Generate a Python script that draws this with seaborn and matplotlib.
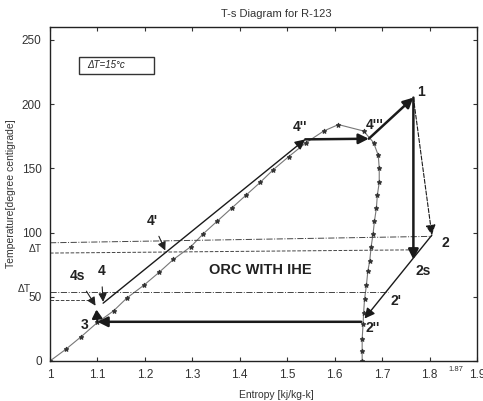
import matplotlib
matplotlib.use("Agg")
import matplotlib.pyplot as plt
import seaborn as sns
import pandas as pd
from matplotlib.patches import Rectangle

# ---------------- data ----------------
# saturation (liquid + vapour) curve of R-123, entropy [kJ/kg-K] vs temperature [C]
sat_s = [1.0, 1.033, 1.066, 1.10, 1.134, 1.162, 1.198, 1.23, 1.26, 1.297, 1.323, 1.353,
         1.383, 1.413, 1.443, 1.471, 1.503, 1.54, 1.577, 1.608, 1.661, 1.682, 1.692,
         1.694, 1.694, 1.690, 1.688, 1.684, 1.681, 1.677, 1.674, 1.670, 1.667, 1.663,
         1.661, 1.660, 1.658, 1.658, 1.658]
sat_T = [0, 9, 19, 30, 39, 49, 59, 69, 79, 89, 99, 109,
         119, 129, 139, 149, 159, 170, 179, 184, 179, 170, 160,
         150, 139, 129, 119, 109, 99, 89, 78, 70, 59, 48,
         37, 29, 17, 8, 0]

# cycle state points
state_names = ["3", "4s", "4", "4''", "4'''", "1", "2s", "2", "2''", "2''h"]
state_s = [1.100, 1.098, 1.112, 1.538, 1.672, 1.766, 1.766, 1.805, 1.663, 1.656]
state_T = [30.5, 40.0, 45.0, 172.5, 173.0, 205.0, 79.0, 98.0, 33.0, 30.5]

# delta-T guide lines: (s_start, T_start, s_end, T_end)
guide_s0 = [1.0, 1.0, 1.0, 1.0]
guide_T0 = [92.0, 84.0, 54.0, 47.5]
guide_s1 = [1.805, 1.766, 1.712, 1.090]
guide_T1 = [97.0, 86.5, 54.0, 47.5]
guide_style = ["dashdot", "dashed", "dashdot", "dashed"]

x_ticks = [1.0, 1.1, 1.2, 1.3, 1.4, 1.5, 1.6, 1.7, 1.8, 1.9]
x_ticklabels = ["1", "1.1", "1.2", "1.3", "1.4", "1.5", "1.6", "1.7", "1.8", "1.9"]
y_ticks = [0, 50, 100, 150, 200, 250]

# ---------------- style ----------------
sns.set_style("ticks")
plt.rcParams["font.family"] = ["Liberation Sans Narrow", "Liberation Sans", "DejaVu Sans"]

fig = plt.figure(figsize=(4.83, 4.01), dpi=100)
ax = fig.add_axes([0.1035, 0.0998, 0.884, 0.833])

# saturation dome
df = pd.DataFrame({"s": sat_s, "T": sat_T})
sns.lineplot(data=df, x="s", y="T", sort=False, estimator=None, ax=ax,
             color="#777777", lw=0.8, marker="*", markersize=3.5,
             markerfacecolor="#333333", markeredgecolor="#333333")

P = {n: (s, t) for n, s, t in zip(state_names, state_s, state_T)}


def arrow(a, b, lw=1.0, ls="-", head=0.45, hw=0.28, color="#1a1a1a"):
    ax.annotate("", xy=b, xytext=a,
                arrowprops=dict(arrowstyle=f"-|>,head_length={head},head_width={hw}",
                                lw=lw, ls=ls, color=color, shrinkA=0, shrinkB=0))


# guide lines
for s0, t0, s1, t1, st in zip(guide_s0, guide_T0, guide_s1, guide_T1, guide_style):
    ax.plot([s0, s1], [t0, t1], ls=st, color="#444444", lw=0.7)

# cycle processes
arrow(P["3"], P["4s"], lw=1.6, head=0.5, hw=0.3)
arrow(P["4"], P["4''"], lw=1.0, head=0.6, hw=0.3)
arrow(P["4''"], P["4'''"], lw=1.8, head=0.6, hw=0.3)
arrow(P["4'''"], P["1"], lw=1.8, head=0.6, hw=0.3)
arrow(P["1"], P["2s"], lw=1.8, head=0.6, hw=0.3)
arrow(P["1"], P["2"], lw=0.8, ls="--", head=0.6, hw=0.3)
arrow(P["2"], P["2''"], lw=1.0, head=0.6, hw=0.3)
arrow(P["2''h"], P["3"], lw=1.8, head=0.6, hw=0.3)

# labels
lab = dict(fontsize=10, fontweight="bold", color="#222222")
ax.text(1.782, 209, "1", ha="center", va="center", **lab)
ax.text(1.684, 184, "4'''", ha="center", va="center", **lab)
ax.text(1.527, 182, "4''", ha="center", va="center", **lab)
ax.text(1.825, 92, "2", va="center", **lab)
ax.text(1.771, 70, "2s", va="center", **lab)
ax.text(1.718, 47, "2'", va="center", **lab)
ax.text(1.664, 26, "2''", va="center", **lab)
ax.text(1.073, 28, "3", va="center", ha="center", **lab)

ptr = dict(arrowstyle="-|>,head_length=0.5,head_width=0.25", lw=0.8,
           color="#222222", shrinkA=4, shrinkB=0)
ax.annotate("4s", xy=(1.096, 43), xytext=(1.057, 66), ha="center", va="center",
            arrowprops=ptr, **lab)
ax.annotate("4", xy=(1.112, 46), xytext=(1.108, 70), ha="center", va="center",
            arrowprops=ptr, **lab)
ax.annotate("4'", xy=(1.243, 86), xytext=(1.215, 109), ha="center", va="center",
            arrowprops=ptr, **lab)

ax.text(1.443, 71, "ORC WITH IHE", ha="center", va="center",
        fontsize=10.5, fontweight="bold", color="#222222")

# delta-T box
ax.add_patch(Rectangle((0.068, 0.859), 0.176, 0.052, transform=ax.transAxes,
                       fill=False, lw=1.0, edgecolor="#333333"))
ax.text(0.088, 0.885, "ΔT=15°c", transform=ax.transAxes, fontsize=7,
        style="italic", va="center", ha="left", color="#222222")

# delta-T labels left of axis
ax.text(-0.02, 87, "ΔT", transform=ax.get_yaxis_transform(), ha="right",
        va="center", fontsize=7.5, color="#333333")
ax.text(-0.045, 56, "ΔT", transform=ax.get_yaxis_transform(), ha="right",
        va="center", fontsize=7.5, color="#333333")
ax.text(1.855, -0.015, "1.87", transform=ax.get_xaxis_transform(), ha="center",
        va="top", fontsize=5.5, color="#333333")

# axes
ax.set_xlim(1.0, 1.9)
ax.set_ylim(0, 260)
ax.set_xticks(x_ticks)
ax.set_xticklabels(x_ticklabels)
ax.set_yticks(y_ticks)
ax.tick_params(direction="in", length=3, width=0.8, labelsize=8.5, colors="#333333",
               top=True, right=True, pad=6)
for sp in ax.spines.values():
    sp.set_linewidth(1.0)
    sp.set_color("#222222")
ax.set_xlabel("Entropy [kj/kg-k]", fontsize=7.5, color="#333333", x=0.53, labelpad=6)
ax.set_ylabel("Temperature[degree centigrade]", fontsize=7.5, color="#333333", labelpad=4)
ax.set_title("T-s Diagram for R-123", fontsize=8, color="#333333", x=0.53, pad=7)

fig.savefig("out.png", dpi=100)
